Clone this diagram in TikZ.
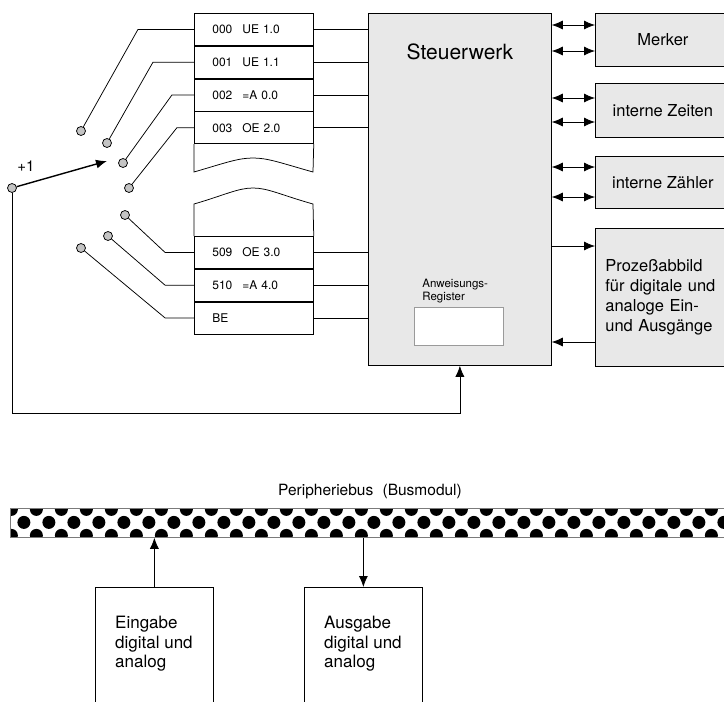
\documentclass[tikz,border=0pt]{standalone}
\usepackage{fontspec}
\setmainfont{TeX Gyre Heros}
\usetikzlibrary{positioning, arrows.meta, calc}
\definecolor{panel}{HTML}{e8e8e8}
\definecolor{pin}{HTML}{c4c4c4}
\definecolor{busline}{HTML}{7a7a7a}
\definecolor{regline}{HTML}{9a9a9a}

\begin{document}
\begin{tikzpicture}[x=1pt, y=-1pt, line width=0.75pt,
  cell/.style={draw, minimum width=119pt, minimum height=32pt, inner xsep=18pt, text width=83pt, align=left, font=\fontsize{12}{14}\selectfont, anchor=north west},
  box/.style={draw, fill=panel, anchor=north west, minimum width=135pt, font=\fontsize{16.5}{20}\selectfont},
  unit/.style={draw, anchor=north west, minimum width=118pt, minimum height=140pt},
  txt/.style={font=\fontsize{17}{19.5}\selectfont, align=left, anchor=north west},
  contact/.style={circle, draw, fill=pin, inner sep=0pt, minimum size=9pt},
  arr/.style={-{Latex[length=11pt, width=9pt]}},
  biarr/.style={{Latex[length=11pt, width=9pt]}-{Latex[length=11pt, width=9pt]}}]
\useasboundingbox (0,0) rectangle (724,702);
% program memory
\node[cell] (c0) at (194,13) {000\hspace{10pt}UE 1.0};
\node[cell, below=0pt of c0] (c1) {001\hspace{10pt}UE 1.1};
\node[cell, below=0pt of c1] (c2) {002\hspace{10pt}=A 0.0};
\node[cell, below=0pt of c2] (c3) {003\hspace{10pt}OE 2.0};
\draw (c3.south west) -- (194,172) .. controls (225,163) and (238,158) .. (253,158) .. controls (268,158) and (281,163) .. (313,172) -- (c3.south east);
\node[cell] (c509) at (194,236) {509\hspace{10pt}OE 3.0};
\node[cell, below=0pt of c509] (c510) {510\hspace{10pt}=A 4.0};
\node[cell, below=0pt of c510] (cbe) {BE};
\draw (c509.north west) -- (194,204) .. controls (225,195) and (238,188) .. (253,188) .. controls (268,188) and (281,195) .. (313,204) -- (c509.north east);
% control unit
\node[draw, fill=panel, anchor=north west, minimum width=183pt, minimum height=352pt] (sw) at (368,13) {};
\node[font=\fontsize{21}{24}\selectfont] (swlbl) at ([yshift=-39pt]sw.north) {Steuerwerk};
\node[draw=regline, fill=white, anchor=north west, minimum width=89pt, minimum height=38pt] (reg) at (414,307) {};
\node[font=\fontsize{11.5}{13}\selectfont, align=left, anchor=south west, inner sep=1pt] (reglbl) at ([xshift=7pt, yshift=3pt]reg.north west) {Anweisungs-\\Register};
\foreach \c in {c0,c1,c2,c3,c509,c510,cbe}
  \draw (\c.east) -- (\c.east -| sw.west);
% address selector
\node[contact] (k0) at (81,131) {};
\node[contact] (k1) at (107,143) {};
\node[contact] (k2) at (123,163) {};
\node[contact] (k3) at (129,188) {};
\node[contact] (k509) at (125,215) {};
\node[contact] (k510) at (108,236) {};
\node[contact] (kbe) at (81,248) {};
\foreach \k/\c/\d in {k0/c0/56, k1/c1/41, k2/c2/22, k3/c3/17, k509/c509/29, k510/c510/29, kbe/cbe/29}
  \draw (\k) -- ([xshift=-\d]\c.west) -- (\c.west);
\node[contact] (inc) at (12,188) {};
\node[font=\fontsize{15}{17}\selectfont] (inclbl) at ([xshift=14pt, yshift=22pt]inc) {+1};
\coordinate (inctip) at (107,161);
\draw[arr, line width=1.4pt] (inc) -- (inctip);
\draw[arr] (inc) |- ([yshift=-48pt]sw.south) -- (sw.south);
% internal memory areas
\node[box, minimum height=53pt] (mrk) at (595,13) {Merker};
\node[box, minimum height=54pt] (zt) at (595,83) {interne Zeiten};
\node[box, minimum height=52pt] (zl) at (595,156) {interne Zähler};
\node[box, minimum height=138pt, text width=115pt, inner xsep=10pt, align=left] (pab) at (595,228) {Prozeßabbild\\für digitale und\\analoge Ein-\\und Ausgänge};
\foreach \b/\d in {mrk/12, mrk/38, zt/15, zt/39, zl/11, zl/41} {
  \coordinate (a) at ([yshift=-\d]\b.north west);
  \draw[biarr] (a -| sw.east) -- (a);
}
\coordinate (pin) at ([yshift=-18pt]pab.north west);
\coordinate (pout) at ([yshift=-114pt]pab.north west);
\draw[arr] (pin -| sw.east) -- (pin);
\draw[arr] (pout) -- (pout -| sw.east);
% peripheral bus
\node[draw=busline, anchor=north west, minimum width=730pt, minimum height=29pt, inner sep=0pt,
  path picture={\foreach \i in {0,...,29} {
    \fill ([shift={(13.5+25*\i,14)}]path picture bounding box.north west) circle (6.5);
    \fill ([shift={(1+25*\i,1)}]path picture bounding box.north west) circle (6.5);
    \fill ([shift={(1+25*\i,27)}]path picture bounding box.north west) circle (6.5);}}] (bus) at (10,508) {};
\node[font=\fontsize{15.5}{17}\selectfont] (buslbl) at (370,492) {Peripheriebus\hspace{0.6em}(Busmodul)};
\node[unit] (ein) at (95,587) {};
\node[txt] (eintxt) at ([xshift=16.5pt, yshift=-25.5pt]ein.north west) {Eingabe\\digital und\\analog};
\node[unit] (aus) at (304,587) {};
\node[txt] (austxt) at ([xshift=16.5pt, yshift=-25.5pt]aus.north west) {Ausgabe\\digital und\\analog};
\draw[arr] (ein.north) -- (ein.north |- bus.south);
\draw[arr] (aus.north |- bus.south) -- (aus.north);
\end{tikzpicture}
\end{document}
